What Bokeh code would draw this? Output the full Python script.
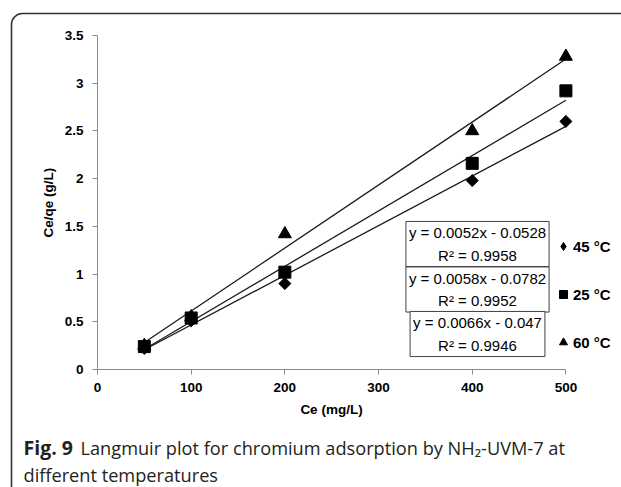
import math
from bokeh.plotting import figure
from bokeh.models import Range1d, FixedTicker, Label, Legend, LegendItem, BoxAnnotation
from bokeh.embed import file_html
from bokeh.resources import INLINE

# ---------------- data ----------------
ce = [50, 100, 200, 400, 500]
series_names = ["45 °C", "25 °C", "60 °C"]
y45 = [0.22, 0.51, 0.90, 1.98, 2.60]
y25 = [0.24, 0.54, 1.02, 2.16, 2.92]
y60 = [0.25, 0.55, 1.42, 2.50, 3.28]
slopes = [0.0052, 0.0058, 0.0066]
intercepts = [-0.0528, -0.0782, -0.047]
r2_values = [0.9958, 0.9952, 0.9946]
x_ticks = [0, 100, 200, 300, 400, 500]
x_tick_labels = ["0", "100", "200", "300", "400", "500"]
y_ticks = [0, 0.5, 1, 1.5, 2, 2.5, 3, 3.5]
y_tick_labels = ["0", "0.5", "1", "1.5", "2", "2.5", "3", "3.5"]
x_title = "Ce (mg/L)"
y_title = "Ce/qe (g/L)"
caption_bold = "Fig. 9"
caption_line1 = "Langmuir plot for chromium adsorption by NH\u2082-UVM-7 at"
caption_line2 = "different temperatures"

# ---------------- layout (pixels) ----------------
W, H = 621, 487
AX_L, AX_R = 97, 565.4      # pixel positions of x = 0 and x = 500
AX_B, AX_T = 369, 35        # pixel positions of y = 0 and y = 3.5
kx = (AX_R - AX_L) / 500.0
ky = (AX_B - AX_T) / 3.5

def sx(px):
    return px

def sy(py):
    return H - py

p = figure(width=W, height=H, output_backend="svg", toolbar_location=None,
           x_range=Range1d(-AX_L / kx, (W - AX_L) / kx),
           y_range=Range1d(-(H - AX_B) / ky, 3.5 + AX_T / ky),
           min_border_left=0, min_border_right=0,
           min_border_top=0, min_border_bottom=0)
p.outline_line_color = None
p.background_fill_color = "white"
p.border_fill_color = "white"
p.xgrid.visible = False
p.ygrid.visible = False

AXIS_COL = "#8a8a8a"
TICK_FONT = "Liberation Sans"
for ax in (p.xaxis[0], p.yaxis[0]):
    ax.fixed_location = 0
    ax.axis_line_color = AXIS_COL
    ax.major_tick_line_color = AXIS_COL
    ax.minor_tick_line_color = None
    ax.major_tick_out = 5
    ax.major_tick_in = 0
    ax.major_label_text_font = TICK_FONT
    ax.major_label_text_font_style = "bold"
    ax.major_label_text_font_size = "13.5px"
    ax.major_label_text_color = "black"
    ax.axis_label_text_font = TICK_FONT
    ax.axis_label_text_font_style = "bold"
    ax.axis_label_text_font_size = "13.5px"
    ax.axis_label_text_color = "black"

p.xaxis.bounds = (0, 500)
p.xaxis.ticker = FixedTicker(ticks=x_ticks)
p.xaxis.major_label_overrides = {t: l for t, l in zip(x_ticks, x_tick_labels)}
p.xaxis.major_label_standoff = 8
p.xaxis.axis_label = x_title
p.xaxis.axis_label_standoff = 7

p.yaxis.bounds = (0, 3.5)
p.yaxis.ticker = FixedTicker(ticks=y_ticks)
p.yaxis.major_label_overrides = {t: l for t, l in zip(y_ticks, y_tick_labels)}
p.yaxis.major_label_standoff = 9
p.yaxis.axis_label = y_title
p.yaxis.axis_label_standoff = 6

# trend lines
for s, b in zip(slopes, intercepts):
    xs = [min(ce), max(ce)]
    p.line(xs, [s * x + b for x in xs], line_color="#1a1a1a", line_width=1.3)

# markers
r45 = p.scatter(ce, y45, marker="square", angle=math.pi / 4, size=8.5, color="black")
r25 = p.scatter(ce, y25, marker="square", size=12, color="black")
r60 = p.scatter(ce, y60, marker="triangle", size=13, color="black")
# hidden legend key for the diamond symbol (same data, not drawn in the plot)
r45_key = p.scatter(ce, y45, marker="diamond", color="black", visible=False)

legend = Legend(items=[LegendItem(label=series_names[0], renderers=[r45_key]),
                       LegendItem(label=series_names[1], renderers=[r25]),
                       LegendItem(label=series_names[2], renderers=[r60])],
                location=(sx(553), sy(352)), orientation="vertical",
                padding=0, margin=0, border_line_color=None, background_fill_alpha=0,
                inactive_fill_alpha=0, click_policy="none",
                glyph_width=20, glyph_height=20, label_standoff=0, label_height=20,
                spacing=28, label_text_font=TICK_FONT, label_text_font_style="bold",
                label_text_font_size="15px", label_text_color="black")
p.add_layout(legend)

# equation boxes
box_centers = [(477, 243.5), (477, 289), (477, 333.5)]
for (cx, cy), s, b, r2 in zip(box_centers, slopes, intercepts, r2_values):
    txt = f"y = {s}x - {abs(b)}\nR\u00b2 = {r2}"
    p.add_layout(Label(x=sx(cx), y=sy(cy), x_units="screen", y_units="screen",
                       text=txt, text_align="center", text_baseline="middle",
                       text_font=TICK_FONT, text_font_size="15px", text_color="black",
                       text_line_height=1.3, padding=3,
                       border_line_color="#404040", border_line_width=1,
                       background_fill_color="white"))

# outer rounded frame
p.add_layout(BoxAnnotation(left=sx(11), right=sx(760), top=sy(13), bottom=sy(700),
                           left_units="screen", right_units="screen",
                           top_units="screen", bottom_units="screen",
                           fill_color=None, fill_alpha=0, line_color="#333333",
                           line_alpha=1.0, line_width=1.6, border_radius=11))

# caption
CAP_FONT = "Open Sans"
CAP_COL = "#231f20"
p.add_layout(Label(x=sx(23), y=sy(447), x_units="screen", y_units="screen",
                   text=caption_bold, text_font=CAP_FONT, text_font_style="bold",
                   text_font_size="19.5px", text_color=CAP_COL, text_baseline="alphabetic"))
p.add_layout(Label(x=sx(80), y=sy(447), x_units="screen", y_units="screen",
                   text=caption_line1, text_font=CAP_FONT,
                   text_font_size="18.2px", text_color=CAP_COL, text_baseline="alphabetic"))
p.add_layout(Label(x=sx(23), y=sy(474), x_units="screen", y_units="screen",
                   text=caption_line2, text_font=CAP_FONT,
                   text_font_size="18.2px", text_color=CAP_COL, text_baseline="alphabetic"))

open("out.html", "w").write(file_html(p, INLINE))
